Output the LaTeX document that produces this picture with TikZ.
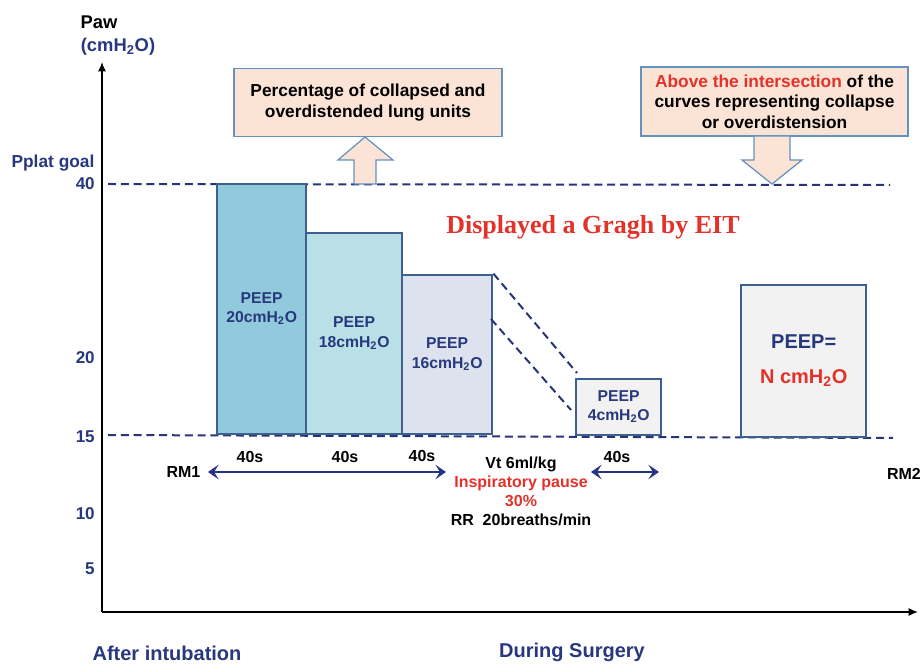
\documentclass[tikz,border=0pt]{standalone}
\usepackage{fontspec}
\setmainfont{Liberation Sans}
\newfontfamily\serifbold{Liberation Serif}
\usetikzlibrary{arrows.meta}
\definecolor{navy}{RGB}{40,56,125}
\definecolor{arrnavy}{RGB}{38,52,135}
\definecolor{redtxt}{RGB}{226,50,42}
\definecolor{barline}{RGB}{62,96,142}
\definecolor{dashcol}{RGB}{40,52,120}
\definecolor{fillA}{RGB}{145,202,220}
\definecolor{fillB}{RGB}{185,223,231}
\definecolor{fillC}{RGB}{220,227,239}
\definecolor{fillD}{RGB}{242,242,242}
\definecolor{peach}{RGB}{251,228,214}
\definecolor{callline}{RGB}{100,145,190}
\begin{document}
\begin{tikzpicture}[x=0.75pt,y=-0.75pt,
  every node/.style={font=\bfseries, inner sep=0pt},
  bar/.style={draw=barline, line width=1.8pt, anchor=south west, text=navy, align=center,
    font=\bfseries\fontsize{11.8}{14.3}\selectfont},
  callout/.style={draw=callline, line width=0.9pt, fill=peach, align=center,
    font=\bfseries\fontsize{13}{15.6}\selectfont},
  blockarrow/.style={draw=callline, line width=0.9pt, fill=peach},
  dashln/.style={draw=dashcol, line width=1.5pt, dash pattern=on 6pt off 3.6pt},
  axisln/.style={draw=black, line width=1.1pt, -{Latex[length=7pt,width=6pt]}},
  dbl/.style={draw=arrnavy, line width=2pt, {Stealth[length=8pt,width=11pt,inset=3.5pt]}-{Stealth[length=8pt,width=11pt,inset=3.5pt]}},
  ylab/.style={anchor=east, text=navy, font=\bfseries\fontsize{12.8}{15}\selectfont},
  small/.style={font=\bfseries\fontsize{12}{14.25}\selectfont},
  bottomlab/.style={text=navy, font=\bfseries\fontsize{15}{18}\selectfont}
]
\useasboundingbox (0,0) rectangle (922,666);

% axes
\coordinate (O) at (102,612);
\coordinate (ytop) at (102,62);
\coordinate (xend) at (918,612);
\draw[axisln] (O) -- (ytop);
\draw[axisln] (O) -- (xend);

% axis titles
\node[text=black, font=\bfseries\fontsize{13.8}{16}\selectfont] (paw) at (99,22) {Paw};
\node[text=navy, font=\bfseries\fontsize{13.8}{16}\selectfont] (unit) at (118,47) {(cmH\textsubscript{2}O)};
\node[text=navy, font=\bfseries\fontsize{13}{15}\selectfont] (pplat) at (53,163) {Pplat goal};
\node[ylab] (y40) at (95,184) {40};
\node[ylab] (y20) at (95,358) {20};
\node[ylab] (y15) at (95,437) {15};
\node[ylab] (y10) at (95,514) {10};
\node[ylab] (y5) at (95,569) {5};

% dashed reference lines
\coordinate (d40l) at (108,184);
\coordinate (d40r) at (890,185);
\coordinate (d15l) at (108,435);
\coordinate (d15r) at (893,438);
\draw[dashln] (d40l) -- (d40r);
\draw[dashln] (d15l) -- (d15r);

% bars
\node[bar, fill=fillA, minimum width=66.75pt, minimum height=187.5pt] (b1) at (216,435) {PEEP\\20cmH\textsubscript{2}O};
\node[bar, fill=fillB, minimum width=72pt, minimum height=150.75pt] (b2) at (305,435) {PEEP\\18cmH\textsubscript{2}O};
\node[bar, fill=fillC, minimum width=67.5pt, minimum height=119.25pt] (b3) at (401,435) {PEEP\\16cmH\textsubscript{2}O};
\node[bar, fill=fillD, minimum width=63.75pt, minimum height=42pt] (b4) at (575,436) {PEEP\\4cmH\textsubscript{2}O};
\node[bar, fill=fillD, minimum width=93.75pt, minimum height=114pt,
  font=\bfseries\fontsize{15}{18}\selectfont] (b5) at (740,438) {PEEP=\\[8pt]{\color{redtxt}N cmH\textsubscript{2}O}};

% diagonal dashed lines
\coordinate (g1) at (577,373);
\coordinate (g2s) at (491,319);
\coordinate (g2) at (571,410);
\draw[dashln] (b3.north east) -- (g1);
\draw[dashln] (g2s) -- (g2);

% callouts
\node[callout, minimum width=201pt, minimum height=51pt] (c1) at (368,102.5)
  {Percentage of collapsed and\\overdistended lung units};
\node[callout, minimum width=200.25pt, minimum height=51.75pt, font=\bfseries\fontsize{13}{15.4}\selectfont] (c2) at (774.5,101.5)
  {{\color{redtxt}Above the intersection} of the\\curves representing collapse\\or overdistension};

% block arrows
\draw[blockarrow] (354,184) -- (354,160) -- (338,160) -- (365,137) -- (393,160) -- (376,160) -- (376,184) -- cycle;
\draw[blockarrow] (754,136) -- (754,160) -- (742,160) -- (772,184) -- (802,160) -- (790,160) -- (790,136) -- cycle;

% title
\node[text=redtxt, font=\serifbold\bfseries\fontsize{19.5}{23}\selectfont] (title) at (593,227) {Displayed a Gragh by EIT};

% time arrows
\coordinate (a1l) at (208,472);
\coordinate (a1r) at (446,472);
\coordinate (a2l) at (591,472);
\coordinate (a2r) at (659,472);
\draw[dbl] (a1l) -- (a1r);
\draw[dbl] (a2l) -- (a2r);

\node[small] (rm1) at (183.5,472) {RM1};
\node[small] (rm2) at (904,474) {RM2};
\node[small] (t1) at (250,457) {40s};
\node[small] (t2) at (345,457) {40s};
\node[small] (t3) at (422,456) {40s};
\node[small] (t4) at (617,457) {40s};
\node[small, align=center] (vent) at (521,491.5)
  {Vt 6ml/kg\\{\color{redtxt}Inspiratory pause}\\{\color{redtxt}30\%}\\RR\ \ 20breaths/min};

% bottom labels
\node[bottomlab] (after) at (167,653) {After intubation};
\node[bottomlab] (during) at (572,652) {During Surgery};
\end{tikzpicture}
\end{document}
